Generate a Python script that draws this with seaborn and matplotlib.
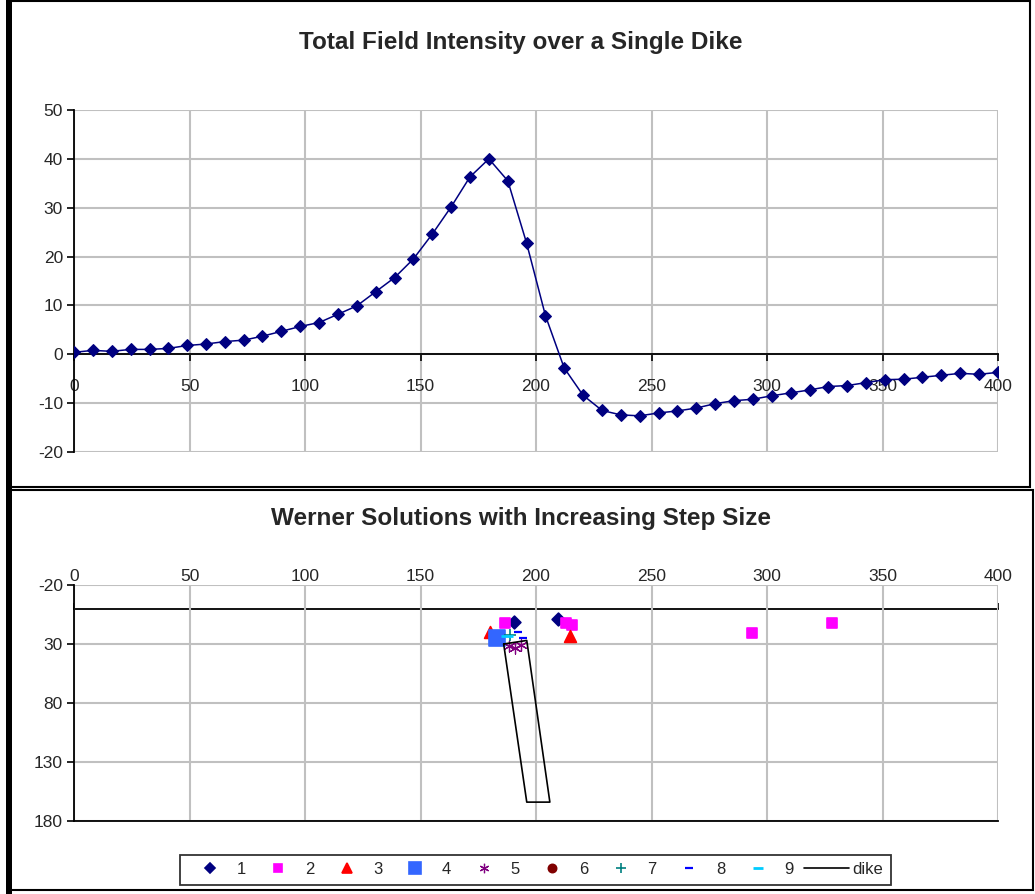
import numpy as np
import pandas as pd
import matplotlib
matplotlib.use("Agg")
import matplotlib.pyplot as plt
import seaborn as sns
from matplotlib.lines import Line2D
from matplotlib.patches import Rectangle

# ---------------- data ----------------
station_x = [0, 8.2, 16.3, 24.5, 32.7, 40.8, 49.0, 57.1, 65.3, 73.5,
             81.6, 89.8, 98.0, 106.1, 114.3, 122.4, 130.6, 138.8, 146.9, 155.1,
             163.3, 171.4, 179.6, 187.8, 195.9, 204.1, 212.2, 220.4, 228.6, 236.7,
             244.9, 253.1, 261.2, 269.4, 277.6, 285.7, 293.9, 302.0, 310.2, 318.4,
             326.5, 334.7, 342.9, 351.0, 359.2, 367.3, 375.5, 383.7, 391.8, 400]
field = [0.4, 0.8, 0.6, 1.0, 1.0, 1.2, 1.8, 2.1, 2.6, 2.9,
         3.7, 4.7, 5.7, 6.5, 8.2, 9.9, 12.8, 15.7, 19.5, 24.6,
         30.2, 36.3, 40.0, 35.5, 22.8, 7.9, -2.8, -8.4, -11.5, -12.4,
         -12.6, -12.0, -11.6, -11.0, -10.1, -9.5, -9.2, -8.5, -7.9, -7.3,
         -6.6, -6.4, -5.8, -5.2, -5.1, -4.7, -4.3, -3.9, -4.1, -3.7]

s1_x = [190.5, 209.7]
s1_z = [11.5, 8.8]
s2_x = [186.6, 213.2, 215.8, 293.6, 328.3]
s2_z = [11.9, 12.5, 13.9, 20.9, 12.5]
s3_x = [180.0, 214.7]
s3_z = [20.1, 23.2]
s4_x = [183.0]
s4_z = [25.2]
s5_x = [188.5, 191.0, 193.5]
s5_z = [31.5, 33.5, 30.5]
s6_x = []
s6_z = []
s7_x = [188.7]
s7_z = [22.4]
s8_x = [192.3, 194.5]
s8_z = [20.1, 25.2]
s9_x = [187.5]
s9_z = [23.5]
dike_x = [186, 196, 206, 196, 186]
dike_z = [30, 27, 164, 164, 30]

series_labels = ["1", "2", "3", "4", "5", "6", "7", "8", "9"]
x_ticks = [0, 50, 100, 150, 200, 250, 300, 350, 400]
top_yticks = [-20, -10, 0, 10, 20, 30, 40, 50]
bot_yticks = [-20, 30, 80, 130, 180]

# ---------------- styling ----------------
sns.set_style("white")
plt.rcParams['font.family'] = ['Liberation Sans', 'DejaVu Sans']
plt.rcParams['axes.unicode_minus'] = False

W, H = 1035, 894
fig = plt.figure(figsize=(W / 100, H / 100), dpi=100)

def fx(px):
    return px / W

def fy(py):
    return 1 - py / H

GRID = '#c0c0c0'
NAVY = '#000080'
TICK_FS = 12.5

# ---------------- top chart ----------------
ax1 = fig.add_axes([fx(74), fy(452), fx(998) - fx(74), fy(110) - fy(452)])
df_top = pd.DataFrame({"x": station_x, "field": field})
sns.lineplot(data=df_top, x="x", y="field", ax=ax1, color=NAVY, lw=1.1,
             marker='D', markersize=6.5, markeredgecolor=NAVY,
             markerfacecolor=NAVY, sort=False, estimator=None, zorder=5)
ax1.set_xlim(0, 400)
ax1.set_ylim(-20, 50)
ax1.set_xticks(x_ticks)
ax1.set_yticks(top_yticks)
ax1.set_xlabel("")
ax1.set_ylabel("")
ax1.grid(True, color=GRID, lw=1.5)
ax1.set_axisbelow(True)
for s in ['top', 'right']:
    ax1.spines[s].set_visible(False)
ax1.spines['left'].set_color('black')
ax1.spines['left'].set_linewidth(1.3)
ax1.spines['bottom'].set_position(('data', 0))
ax1.spines['bottom'].set_color('black')
ax1.spines['bottom'].set_linewidth(1.3)
ax1.spines['bottom'].set_zorder(3)
ax1.tick_params(axis='x', direction='out', length=5, width=1.2, color='black',
                pad=13, labelsize=TICK_FS, bottom=True)
ax1.tick_params(axis='y', direction='out', length=5, width=1.2, color='black',
                pad=3, labelsize=TICK_FS, left=True)

# ---------------- bottom chart ----------------
ax2 = fig.add_axes([fx(74), fy(821), fx(998) - fx(74), fy(585) - fy(821)])
markers = [
    (s1_x, s1_z, 'D', NAVY, 6.5, 1.2),
    (s2_x, s2_z, 's', '#FF00FF', 7.5, 1.2),
    (s3_x, s3_z, '^', '#FF0000', 8.5, 1.2),
    (s4_x, s4_z, 's', '#3366FF', 11, 1.2),
    (s5_x, s5_z, (6, 2, 0), '#800080', 8, 0.9),
    (s6_x, s6_z, 'o', '#800000', 7, 1.2),
    (s7_x, s7_z, '+', '#008080', 8, 1.2),
    (s8_x, s8_z, '_', '#0000FF', 6, 1.6),
    (s9_x, s9_z, '_', '#00CCFF', 9, 2.0),
]
for (xs, zs, m, c, ms, mw), lab in zip(markers, series_labels):
    if len(xs) == 0:
        continue
    df = pd.DataFrame({"x": xs, "z": zs})
    sns.scatterplot(data=df, x="x", y="z", ax=ax2, marker=m, color=c,
                    s=ms ** 2, edgecolor=c, linewidth=mw, zorder=5,
                    legend=False)
df_dike = pd.DataFrame({"x": dike_x, "z": dike_z})
sns.lineplot(data=df_dike, x="x", y="z", ax=ax2, color='black', lw=1.2,
             sort=False, estimator=None, zorder=6)
ax2.set_xlim(0, 400)
ax2.set_ylim(180, -20)
ax2.set_yticks(bot_yticks)
ax2.set_xticks(x_ticks)
ax2.set_xlabel("")
ax2.set_ylabel("")
ax2.grid(True, color=GRID, lw=1.5)
ax2.set_axisbelow(True)
for s in ['top', 'right']:
    ax2.spines[s].set_visible(False)
for s in ['left', 'bottom']:
    ax2.spines[s].set_color('black')
    ax2.spines[s].set_linewidth(1.3)
ax2.xaxis.tick_top()
ax2.tick_params(axis='x', length=0, pad=1, labelsize=TICK_FS,
                labeltop=True, labelbottom=False)
ax2.tick_params(axis='y', direction='out', length=5, width=1.2, color='black',
                pad=3, labelsize=TICK_FS, left=True)

sec = ax2.secondary_xaxis(0, transform=ax2.transData)
sec.set_xticks(x_ticks)
sec.tick_params(axis='x', direction='in', length=4, width=1.2, color='black',
                labelbottom=False, labeltop=False)
for s in sec.spines.values():
    s.set_color('black')
    s.set_linewidth(1.3)

# ---------------- titles ----------------
fig.text(fx(521), fy(42), "Total Field Intensity over a Single Dike",
         ha='center', va='center', fontsize=17.5, fontweight='bold')
fig.text(fx(521), fy(518), "Werner Solutions with Increasing Step Size",
         ha='center', va='center', fontsize=17.5, fontweight='bold')

# ---------------- legend ----------------
handles = []
for (xs, zs, m, c, ms, mw), lab in zip(markers, series_labels):
    handles.append(Line2D([], [], linestyle='none', marker=m, color=c,
                          markerfacecolor=c, markeredgecolor=c,
                          markersize=ms * 0.85, markeredgewidth=mw, label=lab))
handles.append(Line2D([], [], color='black', lw=1.2, label='dike'))
leg = fig.legend(handles=handles, loc='center',
                 bbox_to_anchor=(fx(535.5), fy(869.5)), ncol=10,
                 fontsize=12, frameon=True, fancybox=False, shadow=False,
                 handlelength=2.7, handletextpad=0.25, columnspacing=0.6,
                 borderpad=0.45, borderaxespad=0)
leg.get_frame().set_edgecolor('black')
leg.get_frame().set_linewidth(1.3)

# ---------------- outer frames ----------------
fig.add_artist(Rectangle((fx(8), fy(487)), fx(1030) - fx(8), fy(1) - fy(487),
                         transform=fig.transFigure, fill=False,
                         edgecolor='black', lw=1.5))
fig.add_artist(Rectangle((fx(8), fy(890)), fx(1033) - fx(8), fy(490) - fy(890),
                         transform=fig.transFigure, fill=False,
                         edgecolor='black', lw=1.5))
fig.add_artist(Rectangle((fx(6), fy(894)), fx(12) - fx(6), 1,
                         transform=fig.transFigure, facecolor='black',
                         edgecolor='none'))

fig.savefig("out.png", dpi=100)
